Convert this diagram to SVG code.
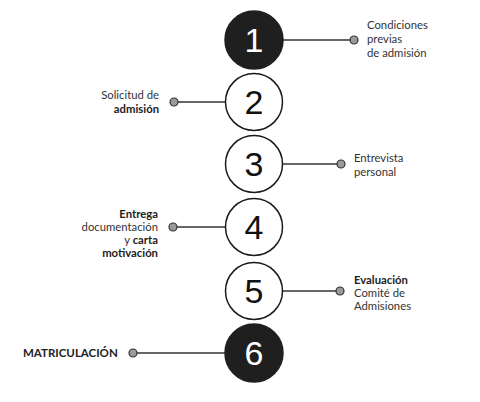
<svg xmlns="http://www.w3.org/2000/svg" width="480" height="402" viewBox="0 0 480 402">
<style>
.c{fill:#fff;stroke:#1a1a1a;stroke-width:1.5}
.d{fill:#1f1f1f;stroke:#1f1f1f;stroke-width:1.5}
.n{font-family:"Liberation Sans",Arial,sans-serif;font-weight:300;font-size:34px;text-anchor:middle;fill:#111}
.nw{fill:#fff}
.l{font-family:Lato,"Open Sans",sans-serif;font-size:11.3px;fill:#333}
.b{font-weight:bold;fill:#222}
.r{text-anchor:end}
.ln{stroke:#333;stroke-width:1.3;fill:none}
.dot{fill:#9a9a9a;stroke:#333;stroke-width:1.2}
</style>
<g id="connectors">
<line class="ln" x1="283" y1="40" x2="354" y2="40"/>
<line class="ln" x1="174" y1="102" x2="225" y2="102"/>
<line class="ln" x1="283" y1="164" x2="341" y2="164"/>
<line class="ln" x1="173" y1="227" x2="225" y2="227"/>
<line class="ln" x1="283" y1="291" x2="340" y2="291"/>
<line class="ln" x1="133" y1="353" x2="225" y2="353"/>
<circle class="dot" cx="354" cy="40" r="4"/>
<circle class="dot" cx="174" cy="102" r="4"/>
<circle class="dot" cx="341" cy="164" r="4"/>
<circle class="dot" cx="173" cy="227" r="4"/>
<circle class="dot" cx="340" cy="291" r="4"/>
<circle class="dot" cx="133" cy="353" r="4"/>
</g>
<g id="node1">
<circle class="d" cx="254" cy="40" r="29"/>
<text class="n nw" x="254" y="52">1</text>
<text class="l" x="367" y="29">Condiciones</text>
<text class="l" x="367" y="43">previas</text>
<text class="l" x="367" y="57">de admisión</text>
</g>
<g id="node2">
<circle class="c" cx="254" cy="102" r="28.5"/>
<text class="n" x="254" y="114">2</text>
<text class="l r" x="159" y="99">Solicitud de</text>
<text class="l r b" x="159" y="113">admisión</text>
</g>
<g id="node3">
<circle class="c" cx="254" cy="164" r="28.5"/>
<text class="n" x="254" y="176">3</text>
<text class="l" x="354" y="162">Entrevista</text>
<text class="l" x="354" y="176">personal</text>
</g>
<g id="node4">
<circle class="c" cx="254" cy="227" r="28.5"/>
<text class="n" x="254" y="239">4</text>
<text class="l r b" x="158" y="218">Entrega</text>
<text class="l r" x="158" y="231">documentación</text>
<text class="l r" x="158" y="244">y <tspan class="b">carta</tspan></text>
<text class="l r b" x="158" y="257">motivación</text>
</g>
<g id="node5">
<circle class="c" cx="254" cy="291" r="28.5"/>
<text class="n" x="254" y="303">5</text>
<text class="l b" x="354" y="284">Evaluación</text>
<text class="l" x="354" y="297">Comité de</text>
<text class="l" x="354" y="310">Admisiones</text>
</g>
<g id="node6">
<circle class="d" cx="254" cy="353" r="29"/>
<text class="n nw" x="254" y="365">6</text>
<text class="l b" x="23" y="357" style="font-size:11.5px">MATRICULACIÓN</text>
</g>
</svg>
